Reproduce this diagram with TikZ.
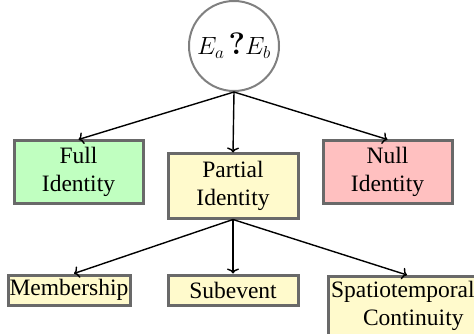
\documentclass[tikz,border=0pt]{standalone}
\usepackage{fontspec}
\setmainfont{Liberation Serif}
\newfontfamily\lmfam{Latin Modern Roman}
\usetikzlibrary{arrows.meta}
\definecolor{boxgray}{RGB}{105,105,105}
\definecolor{circgray}{RGB}{128,128,128}
\definecolor{fullgreen}{RGB}{192,255,192}
\definecolor{partyellow}{RGB}{255,250,204}
\definecolor{nullred}{RGB}{255,192,192}
\begin{document}
\begin{tikzpicture}[x=1pt,y=1pt,
  catbox/.style={draw=boxgray, line width=3pt, rectangle, inner sep=0pt,
    align=center, font=\fontsize{23.5}{28}\selectfont},
  arr/.style={-{To[length=5pt,width=12pt]}, line width=1.4pt, black}]
\useasboundingbox (0,0) rectangle (474,-334);
\node[circle, draw=circgray, line width=2pt, minimum size=90pt, inner sep=0pt,
  font=\fontsize{26}{30}\selectfont] (q) at (234,-46)
  {$E_a\,\mbox{\lmfam\bfseries\fontsize{31}{31}\selectfont ?}E_b$};
\node[catbox, fill=fullgreen, minimum width=129pt, minimum height=62pt] (full) at (78.5,-172) {Full\\Identity};
\node[catbox, fill=partyellow, minimum width=130pt, minimum height=64pt] (partial) at (233,-186) {Partial\\Identity};
\node[catbox, fill=nullred, minimum width=129pt, minimum height=62pt] (null) at (387.5,-172) {Null\\Identity};
\node[catbox, fill=partyellow, minimum width=122pt, minimum height=30pt] (memb) at (69,-290) {Membership};
\node[catbox, fill=partyellow, minimum width=130pt, minimum height=30pt] (sub) at (233,-290) {Subevent};
\node[catbox, fill=partyellow, minimum width=160pt, minimum height=70pt, text width=155pt, align=left,
  inner xsep=2pt, anchor=north west] (spat) at (327,-275) {Spatiotemporal\\\hspace*{32pt}Continuity\\[-12pt]\mbox{}};
\draw[arr] (q.south) -- (full.north);
\draw[arr] (q.south) -- (partial.north);
\draw[arr] (q.south) -- (null.north);
\draw[arr] (partial.south) -- ([xshift=5pt]memb.north);
\draw[arr] (partial.south) -- (sub.north);
\draw[arr] (partial.south) -- ([xshift=80pt]spat.north west);
\end{tikzpicture}
\end{document}
